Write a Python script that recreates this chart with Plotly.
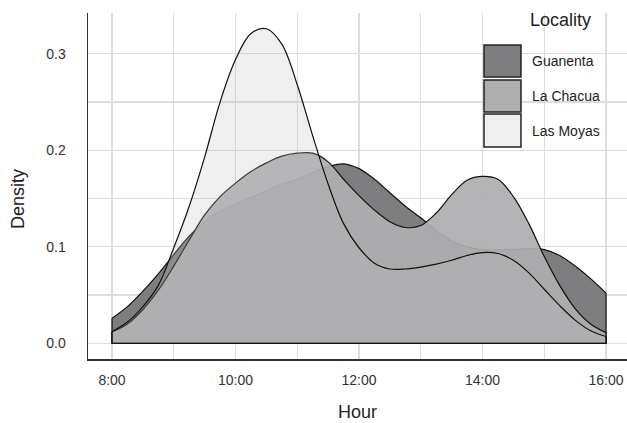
import plotly.graph_objects as go

# ---------------- data ----------------
hours = [8.0, 8.25, 8.5, 8.75, 9.0, 9.25, 9.5, 9.75, 10.0, 10.25, 10.5, 10.75,
         11.0, 11.25, 11.5, 11.75, 12.0, 12.25, 12.5, 12.75, 13.0, 13.25, 13.5,
         13.75, 14.0, 14.25, 14.5, 14.75, 15.0, 15.25, 15.5, 15.75, 16.0]

guanenta = [0.026, 0.038, 0.054, 0.072, 0.092, 0.111, 0.126, 0.137, 0.144, 0.151,
            0.158, 0.165, 0.170, 0.177, 0.183, 0.186, 0.181, 0.170, 0.156, 0.142,
            0.130, 0.117, 0.106, 0.100, 0.097, 0.097, 0.097, 0.098, 0.097, 0.091,
            0.080, 0.067, 0.052]

la_chacua = [0.012, 0.020, 0.035, 0.055, 0.080, 0.107, 0.133, 0.152, 0.166, 0.178,
             0.187, 0.194, 0.197, 0.197, 0.188, 0.170, 0.153, 0.138, 0.126, 0.120,
             0.122, 0.135, 0.154, 0.169, 0.173, 0.170, 0.152, 0.124, 0.090, 0.060,
             0.036, 0.020, 0.011]

las_moyas = [0.012, 0.022, 0.038, 0.060, 0.099, 0.142, 0.193, 0.250, 0.294, 0.321,
             0.326, 0.310, 0.268, 0.215, 0.165, 0.124, 0.099, 0.083, 0.077, 0.077,
             0.079, 0.082, 0.086, 0.091, 0.094, 0.093, 0.086, 0.073, 0.056, 0.039,
             0.024, 0.013, 0.007]

localities = ["Guanenta", "La Chacua", "Las Moyas"]
series = [guanenta, la_chacua, las_moyas]

x_tick_vals = [8, 10, 12, 14, 16]
x_tick_text = ["8:00", "10:00", "12:00", "14:00", "16:00"]
x_minor_vals = [9, 11, 13, 15]
y_tick_vals = [0.0, 0.1, 0.2, 0.3]
y_tick_text = ["0.0", "0.1", "0.2", "0.3"]
y_minor_vals = [0.05, 0.15, 0.25]

# ---------------- styles ----------------
fill_colors = ["rgb(126,126,129)", "rgba(174,174,177,0.93)", "rgba(188,188,188,0.24)"]
key_colors = ["#7E7E81", "#AEAEB1", "#EFEFEF"]
FONT = "Liberation Sans, Arial, sans-serif"
GRID = "#DCDCDC"

fig = go.Figure()
for name, vals, fc in zip(localities, series, fill_colors):
    fig.add_trace(go.Scatter(
        x=hours, y=vals, mode="lines", fill="tozeroy", fillcolor=fc,
        line=dict(color="#111111", width=1.2, shape="spline", smoothing=1.0),
        name=name, showlegend=False, hoverinfo="skip"))
    # closing edges of the density polygon (left edge, baseline, right edge)
    fig.add_trace(go.Scatter(
        x=[hours[0], hours[0], hours[-1], hours[-1]],
        y=[vals[0], 0, 0, vals[-1]], mode="lines",
        line=dict(color="#111111", width=1.2), showlegend=False, hoverinfo="skip"))

# custom legend (large keys)
key_rows = [(0.9075, 0.8150), (0.8064, 0.7139), (0.7081, 0.6127)]
for (y1, y0), name, kc in zip(key_rows, localities, key_colors):
    fig.add_shape(type="rect", xref="paper", yref="paper",
                  x0=0.7347, x1=0.8033, y0=y0, y1=y1,
                  fillcolor=kc, line=dict(color="#222222", width=1.5), layer="above")
    fig.add_annotation(xref="paper", yref="paper", x=0.820, y=(y0 + y1) / 2,
                       text=name, showarrow=False, xanchor="left", yanchor="middle",
                       font=dict(family=FONT, size=14, color="#222222"))
fig.add_annotation(xref="paper", yref="paper", x=0.817, y=0.98, text="Locality",
                   showarrow=False, xanchor="left", yanchor="middle",
                   font=dict(family=FONT, size=18, color="#222222"))

# axis titles
fig.add_annotation(xref="paper", yref="paper", x=0.5, y=-0.153, text="Hour",
                   showarrow=False, xanchor="center", yanchor="middle",
                   font=dict(family=FONT, size=18, color="#222222"))
fig.add_annotation(xref="paper", yref="paper", x=-0.13, y=0.462, text="Density",
                   showarrow=False, textangle=-90, xanchor="center", yanchor="middle",
                   font=dict(family=FONT, size=18, color="#222222"))

fig.update_layout(
    width=627, height=423,
    margin=dict(l=88, r=0, t=13, b=64),
    paper_bgcolor="white", plot_bgcolor="white",
    showlegend=False,
    font=dict(family=FONT, size=14, color="#333333"),
    xaxis=dict(range=[7.611, 16.34], tickmode="array", tickvals=x_tick_vals,
               ticktext=x_tick_text, showgrid=True, gridcolor=GRID, gridwidth=1.2,
               minor=dict(tickmode="array", tickvals=x_minor_vals, showgrid=True,
                          gridcolor=GRID, gridwidth=1.2, ticklen=0),
               zeroline=False, showline=True, linecolor="#333333", linewidth=1.5,
               ticks="outside", ticklen=8, tickcolor="rgba(0,0,0,0)",
               tickfont=dict(family=FONT, size=14, color="#333333")),
    yaxis=dict(range=[-0.0163, 0.3423], tickmode="array", tickvals=y_tick_vals,
               ticktext=y_tick_text, showgrid=True, gridcolor=GRID, gridwidth=1.2,
               minor=dict(tickmode="array", tickvals=y_minor_vals, showgrid=True,
                          gridcolor=GRID, gridwidth=1.2, ticklen=0),
               zeroline=False, showline=True, linecolor="#333333", linewidth=1.5,
               ticks="outside", ticklen=18, tickcolor="rgba(0,0,0,0)",
               tickfont=dict(family=FONT, size=14, color="#333333")),
)

# remove the page's default body margin so the 627x423 figure fills the window
fig.write_html("out.html",
               config={"displayModeBar": False, "staticPlot": True},
               post_script="document.body.style.margin='0';"
                           "document.body.style.overflow='hidden';")
